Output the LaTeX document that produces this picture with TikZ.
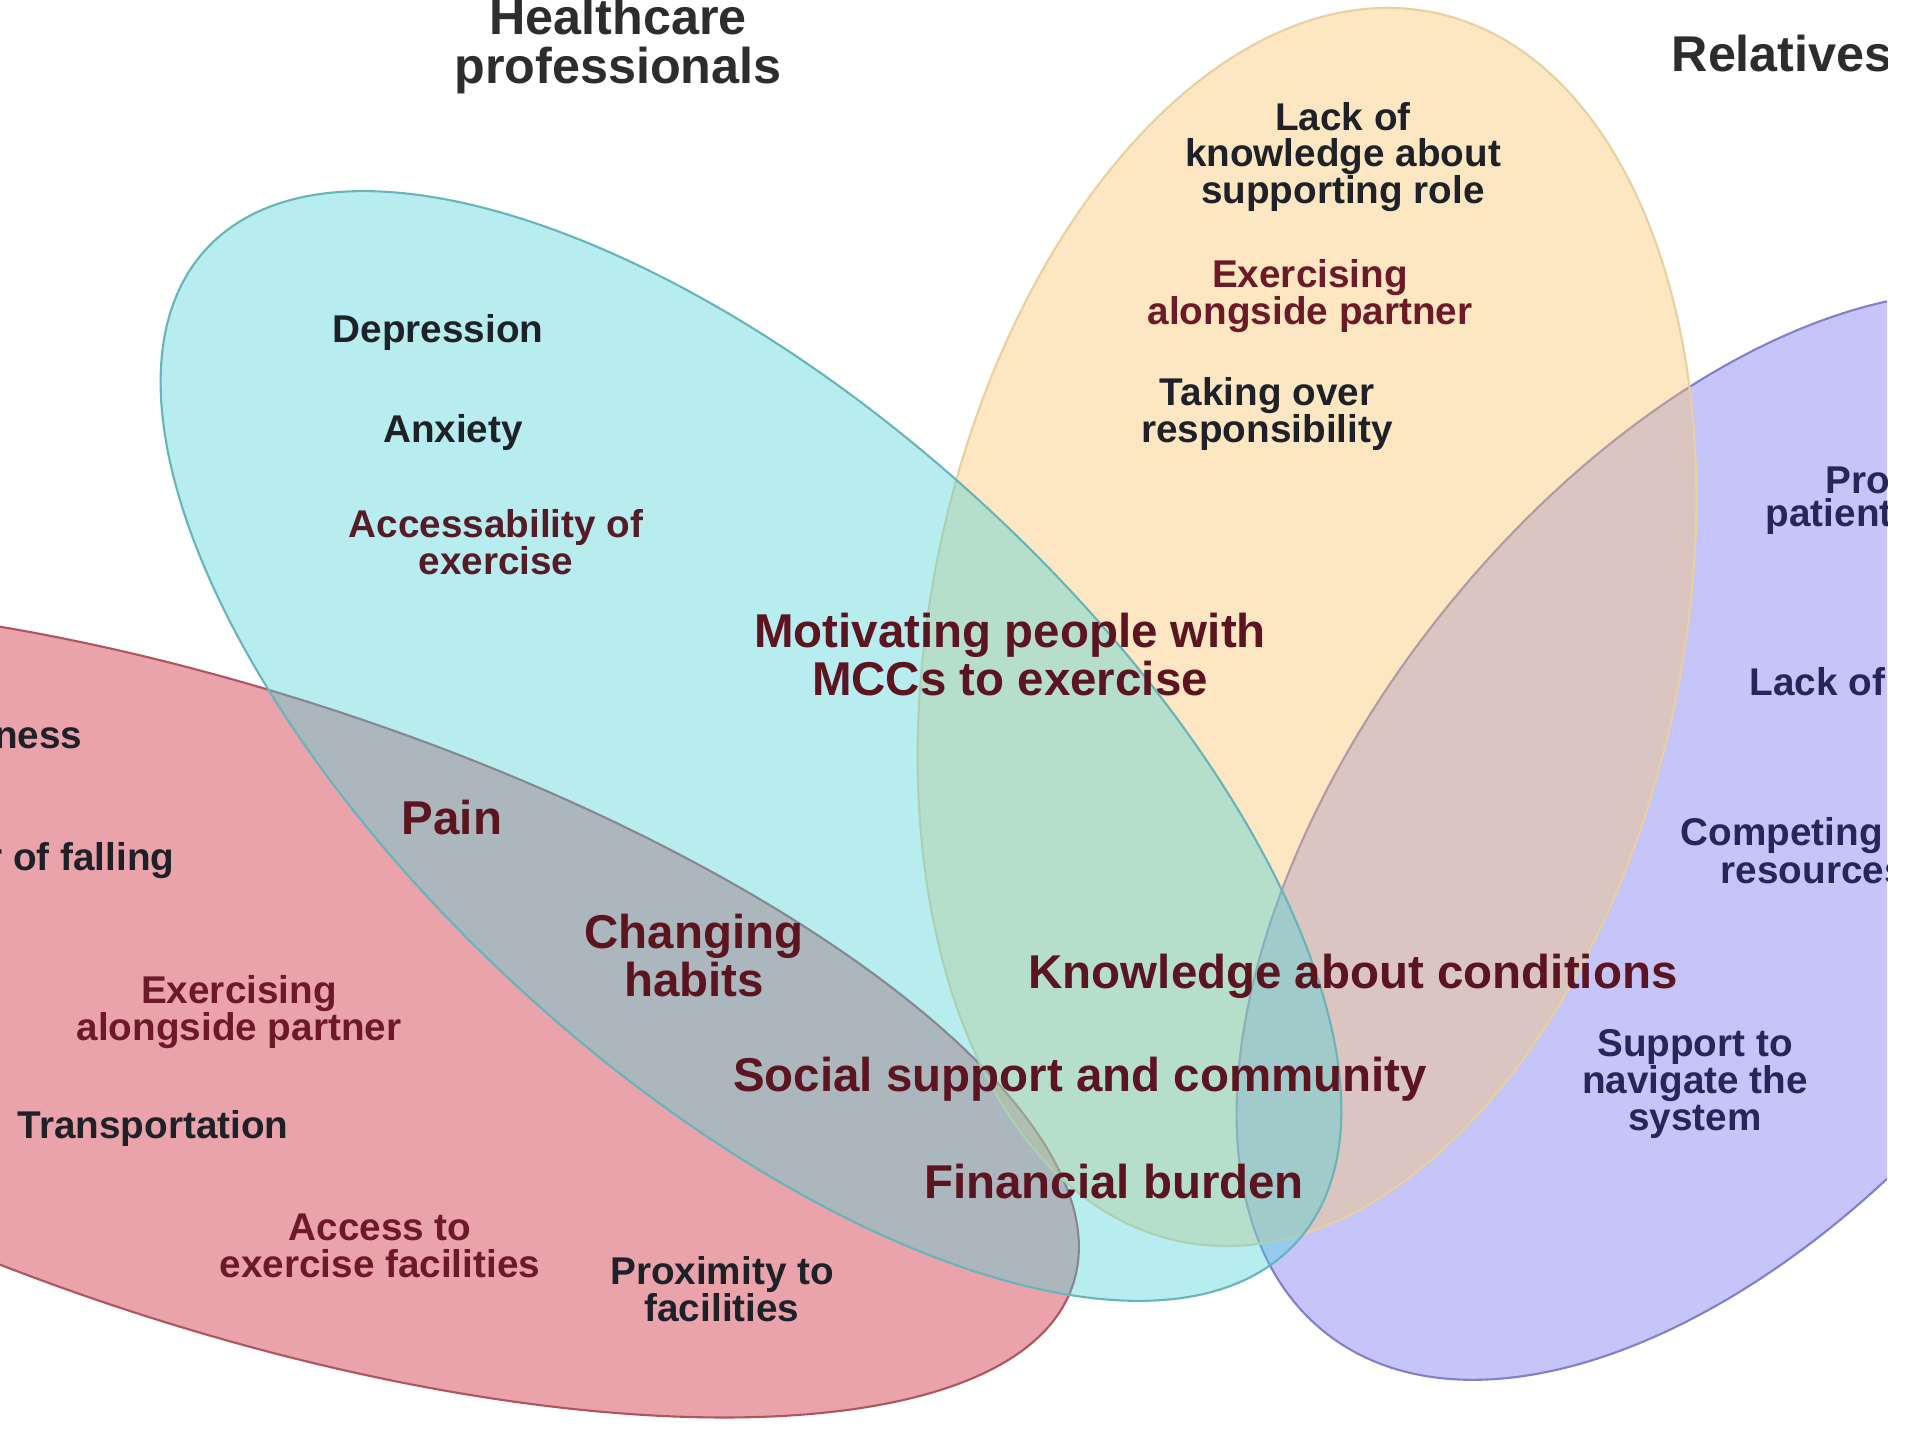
\documentclass[tikz,border=0pt]{standalone}
\usepackage{fontspec}
\setmainfont{Liberation Sans}

\definecolor{hcpfill}{RGB}{77,212,217}
\definecolor{hcpline}{RGB}{105,180,186}
\definecolor{patfill}{RGB}{205,27,47}
\definecolor{patline}{RGB}{176,84,98}
\definecolor{relfill}{RGB}{250,197,107}
\definecolor{relline}{RGB}{232,208,160}
\definecolor{sysfill}{RGB}{110,110,242}
\definecolor{sysline}{RGB}{128,128,205}
\definecolor{darktxt}{RGB}{30,34,40}
\definecolor{redtxt}{RGB}{108,26,40}
\definecolor{bigtxt}{RGB}{92,20,32}
\definecolor{bluetxt}{RGB}{38,38,92}
\definecolor{headtxt}{RGB}{45,45,45}

\begin{document}
\begin{tikzpicture}[x=0.01cm,y=-0.01cm,
    group/.style={fill opacity=0.4,line width=0.6pt},
    itemtxt/.style={inner sep=0pt,align=center,text=darktxt,
      font=\fontsize{11}{10.4}\selectfont\bfseries},
    bigitem/.style={inner sep=0pt,align=center,text=bigtxt,
      font=\fontsize{13.5}{12.6}\selectfont\bfseries},
    titletxt/.style={inner sep=0pt,align=center,text=headtxt,
      font=\fontsize{14.3}{13.9}\selectfont\bfseries}]

  \fill[white] (0,0) rectangle (1920,1440);
  \path[use as bounding box] (0,0) rectangle (1920,1440);

  \begin{scope}
  \clip (0,0) rectangle (1887,1440);

  % the four groups
  \draw[group,fill=patfill,draw=patline] (230,1010) circle [x radius=8.86cm,y radius=3.17cm,rotate=-18];
  \draw[group,fill=sysfill,draw=sysline] (1720,836) circle [x radius=6.34cm,y radius=3.56cm,rotate=51.5];
  \draw[group,fill=relfill,draw=relline] (1307,627) circle [x radius=6.27cm,y radius=3.755cm,rotate=78.3];
  \draw[group,fill=hcpfill,draw=hcpline] (751,746) circle [x radius=7.37cm,y radius=3.35cm,rotate=-42.3];

  \node[titletxt] (hcp) at (618,46) {Healthcare\\professionals};
  \node[titletxt,anchor=west] (rel) at (1671,54) {Relatives};

  % healthcare professionals
  \node[itemtxt] (dep) at (438,333) {Depression};
  \node[itemtxt] (anx) at (453,433) {Anxiety};
  \node[itemtxt,text=redtxt!70!darktxt] (acc) at (496,542) {Accessability of\\exercise};

  % relatives
  \node[itemtxt] (lack) at (1343,157) {Lack of\\knowledge about\\supporting role};
  \node[itemtxt,text=redtxt] (exrel) at (1310,296) {Exercising\\alongside partner};
  \node[itemtxt] (take) at (1267,414) {Taking over\\responsibility};

  % system
  \node[itemtxt,text=bluetxt,anchor=west] (pro) at (1825,480) {Pro};
  \node[itemtxt,text=bluetxt,anchor=west] (pat) at (1765,517) {patient};
  \node[itemtxt,text=bluetxt,anchor=west] (lck) at (1749,682) {Lack of};
  \node[itemtxt,text=bluetxt,anchor=west] (comp) at (1680,836) {Competing};
  \node[itemtxt,text=bluetxt,anchor=west] (res) at (1720,873) {resources};
  \node[itemtxt,text=bluetxt] (nav) at (1695,1084) {Support to\\navigate the\\system};

  % patients
  \node[itemtxt,anchor=east] (ness) at (83,738) {ness};
  \node[itemtxt,anchor=east] (fall) at (175,861) {r of falling};
  \node[itemtxt,text=redtxt] (expat) at (239,1012) {Exercising\\alongside partner};
  \node[itemtxt] (trans) at (153,1129) {Transportation};
  \node[itemtxt,text=redtxt] (access) at (380,1246) {Access to\\exercise facilities};
  \node[itemtxt] (prox) at (722,1289) {Proximity to\\facilities};

  % overlaps
  \node[bigitem] (pain) at (452,818) {Pain};
  \node[bigitem] (habit) at (694,956) {Changing\\habits};
  \node[bigitem] (motiv) at (1010,655) {Motivating people with\\MCCs to exercise};
  \node[bigitem] (know) at (1353,976) {Knowledge about conditions};
  \node[bigitem] (social) at (1080,1079) {Social support and community};
  \node[bigitem] (money) at (1114,1182) {Financial burden};
  \end{scope}
\end{tikzpicture}
\end{document}
